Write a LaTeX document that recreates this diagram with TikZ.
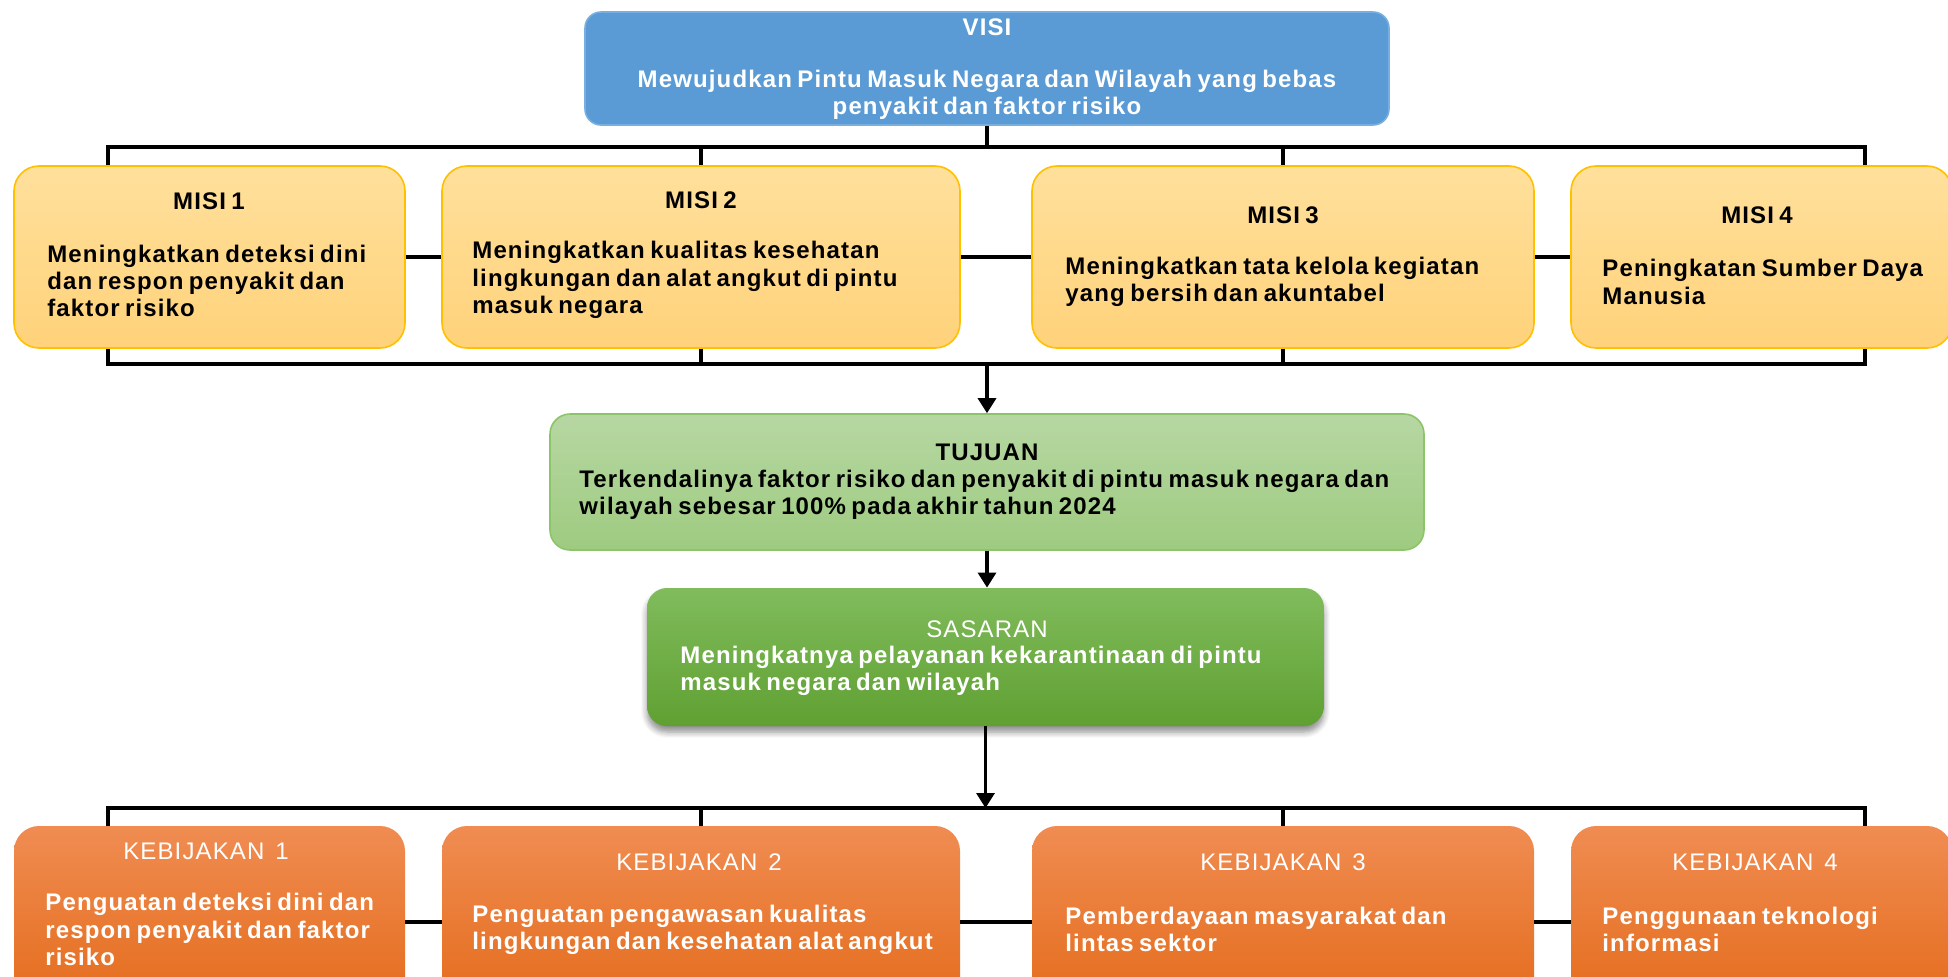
\documentclass[tikz,border=0pt]{standalone}
\usepackage{fontspec}
\setmainfont{Liberation Sans}[LetterSpace=4.7,WordSpace=0.7]
\usetikzlibrary{arrows.meta,shadows.blur}
\definecolor{visiC}{RGB}{91,155,213}
\definecolor{visiB}{RGB}{120,175,225}
\definecolor{misiT}{RGB}{255,224,156}
\definecolor{misiM}{RGB}{255,210,122}
\definecolor{misiB}{RGB}{255,192,0}
\definecolor{tujT}{RGB}{183,215,163}
\definecolor{tujM}{RGB}{158,203,128}
\definecolor{tujB}{RGB}{140,196,105}
\definecolor{sasT}{RGB}{128,188,92}
\definecolor{sasM}{RGB}{96,160,50}
\definecolor{kebT}{RGB}{240,140,82}
\definecolor{kebM}{RGB}{227,106,24}
\tikzset{
  box/.style={rectangle, inner sep=0pt, rounded corners=12.5pt},
  visibox/.style={box, rounded corners=8pt, fill=visiC, draw=visiB, line width=0.8pt},
  misibox/.style={box, top color=misiT, bottom color=misiM, draw=misiB, line width=0.8pt, minimum height=91pt},
  tujbox/.style={box, rounded corners=10pt, top color=tujT, bottom color=tujM, draw=tujB, line width=0.8pt},
  sasbox/.style={box, rounded corners=10pt, top color=sasT, bottom color=sasM,
     blur shadow={shadow xshift=0pt, shadow yshift=-3pt, shadow opacity=45, shadow blur steps=6, shadow blur radius=3pt}},
  kebbox/.style={box, top color=kebT, bottom color=kebM, minimum height=96pt},
  txt/.style={inner sep=0pt, font=\fontsize{12}{13.6}\selectfont\bfseries},
  ttl/.style={txt},
  wttl/.style={txt, text=white, font=\fontsize{12}{13.6}\selectfont},
  body/.style={txt, anchor=west, align=left},
  wbody/.style={body, text=white},
  conn/.style={line width=1.6pt, black},
  arr/.style={conn, -{Triangle[width=9pt,length=7.5pt]}},
}
\begin{document}
\begin{tikzpicture}[x=0.5pt,y=-0.5pt]
\useasboundingbox (0,0) rectangle (1948,976);
\clip (0,0) rectangle (1948,976);
% boxes
\node[visibox, minimum width=402pt, minimum height=56.5pt] (visi) at (987,68.5) {};
\node[misibox, minimum width=195.5pt] (m1) at (209.5,257) {};
\node[misibox, minimum width=259pt] (m2) at (701,257) {};
\node[misibox, minimum width=251pt] (m3) at (1283,257) {};
\node[misibox, minimum width=190.5pt] (m4) at (1761.5,257) {};
\node[tujbox, minimum width=437pt, minimum height=68pt] (tujuan) at (987,482) {};
\node[sasbox, minimum width=338.5pt, minimum height=69pt] (sasaran) at (985.5,657) {};
\node[kebbox, minimum width=195.5pt] (k1) at (209.5,922) {};
\node[kebbox, minimum width=259pt] (k2) at (701,922) {};
\node[kebbox, minimum width=251pt] (k3) at (1283,922) {};
\node[kebbox, minimum width=190.5pt] (k4) at (1761.5,922) {};
% bus coordinates
\coordinate (ta1) at (108,147);
\coordinate (ta4) at (1865,147);
\coordinate (tb1) at (108,364);
\coordinate (tb4) at (1865,364);
\coordinate (kb1) at (108,808);
\coordinate (kb4) at (1865,808);
% connectors top
\draw[conn] (visi.south) -- (visi.south |- ta1);
\draw[conn] (ta1 |- m1.north) -- (ta1) -- (ta4) -- (ta4 |- m4.north);
\draw[conn] (m2.north |- ta1) -- (m2.north);
\draw[conn] (m3.north |- ta1) -- (m3.north);
\draw[conn] (m1) -- (m2);
\draw[conn] (m2) -- (m3);
\draw[conn] (m3) -- (m4);
\draw[conn] (tb1 |- m1.south) -- (tb1) -- (tb4) -- (tb4 |- m4.south);
\draw[conn] (m2.south) -- (m2.south |- tb1);
\draw[conn] (m3.south) -- (m3.south |- tb1);
\draw[arr] (tujuan.north |- tb1) -- (tujuan.north);
\draw[arr] (tujuan.south) -- (tujuan.south |- sasaran.north);
\draw[arr] (sasaran.south) -- (sasaran.south |- kb1);
\draw[conn] (kb1 |- k1.north) -- (kb1) -- (kb4) -- (kb4 |- k4.north);
\draw[conn] (k2.north |- kb1) -- (k2.north);
\draw[conn] (k3.north |- kb1) -- (k3.north);
\draw[conn] (k1) -- (k2);
\draw[conn] (k2) -- (k3);
\draw[conn] (k3) -- (k4);
% texts
\node[ttl, text=white] (visit) at (987,27) {VISI};
\node[txt, text=white, align=center] (visib) at (987,95) {Mewujudkan Pintu Masuk Negara dan Wilayah yang bebas\\penyakit dan faktor risiko};
\node[ttl] (m1t) at (209,201) {MISI 1};
\node[body] (m1b) at (47,281) {Meningkatkan deteksi dini\\dan respon penyakit dan\\faktor risiko};
\node[ttl] (m2t) at (701,200) {MISI 2};
\node[body] (m2b) at (472,280) {Meningkatkan kualitas kesehatan\\lingkungan dan alat angkut di pintu\\masuk negara};
\node[ttl] (m3t) at (1283,215) {MISI 3};
\node[body] (m3b) at (1065,282) {Meningkatkan tata kelola kegiatan\\yang bersih dan akuntabel};
\node[ttl] (m4t) at (1757,215) {MISI 4};
\node[body] (m4b) at (1602,282) {Peningkatan Sumber Daya\\Manusia};
\node[ttl] (tujt) at (987,452) {TUJUAN};
\node[body] (tujb) at (579,494.5) {Terkendalinya faktor risiko dan penyakit di pintu masuk negara dan\\wilayah sebesar 100\% pada akhir tahun 2024};
\node[wttl] (sast) at (987,629) {SASARAN};
\node[wbody] (sasb) at (680,670.5) {Meningkatnya pelayanan kekarantinaan di pintu\\masuk negara dan wilayah};
\node[wttl] (k1t) at (206,851) {KEBIJAKAN\ \ 1};
\node[wbody] (k1b) at (45,929.5) {Penguatan deteksi dini dan\\respon penyakit dan faktor\\risiko};
\node[wttl] (k2t) at (699,862) {KEBIJAKAN\ \ 2};
\node[wbody] (k2b) at (472,929.5) {Penguatan pengawasan kualitas\\lingkungan dan kesehatan alat angkut};
\node[wttl] (k3t) at (1283,862) {KEBIJAKAN\ \ 3};
\node[wbody] (k3b) at (1065,929.5) {Pemberdayaan masyarakat dan\\lintas sektor};
\node[wttl] (k4t) at (1755,862) {KEBIJAKAN\ \ 4};
\node[wbody] (k4b) at (1602,929.5) {Penggunaan teknologi\\informasi};
\end{tikzpicture}
\end{document}
